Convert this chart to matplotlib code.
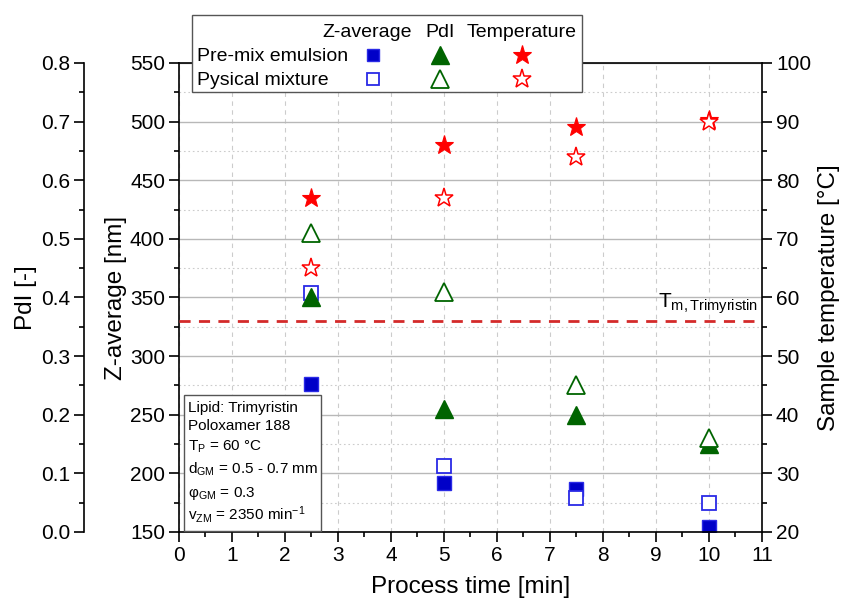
import matplotlib
matplotlib.use("Agg")
import matplotlib.pyplot as plt
from matplotlib.lines import Line2D
from matplotlib.patches import Rectangle
from matplotlib.ticker import MultipleLocator

plt.rcParams['font.family'] = ['Liberation Sans', 'DejaVu Sans']
plt.rcParams['mathtext.fontset'] = 'custom'
plt.rcParams['mathtext.rm'] = 'Liberation Sans'
plt.rcParams['mathtext.it'] = 'Liberation Sans:italic'
plt.rcParams['mathtext.bf'] = 'Liberation Sans:bold'
plt.rcParams['mathtext.default'] = 'regular'

# process time [min]
time = [2.5, 5, 7.5, 10]

# Z-average [nm]
z_premix = [276, 192, 187, 154]
z_phys = [354, 206, 179, 175]

# polydispersity index [-]
pdi_premix = [0.40, 0.21, 0.20, 0.15]
pdi_phys = [0.51, 0.41, 0.25, 0.16]

# sample temperature [°C]
temp_premix = [77, 86, 89, 90.3]
temp_phys = [65, 77, 84, 90]

tm_trimyristin = 56

info_lines = [
    "Lipid: Trimyristin",
    "Poloxamer 188",
    r"T$_P$ = 60 °C",
    r"d$_{GM}$ = 0.5 - 0.7 mm",
    r"φ$_{GM}$ = 0.3",
    r"v$_{ZM}$ = 2350 min$^{-1}$",
]

blue = '#0000c8'
blue_edge = '#2a2ae6'
green = '#006400'
red = '#ff0000'

tick_fs = 15
label_fs = 17.5

fig = plt.figure(figsize=(8.43, 6.05), dpi=100)
ax = fig.add_axes([0.2123, 0.1207, 0.6916, 0.7752])
ax_pdi = ax.twinx()
ax_t = ax.twinx()

# grid sits on the Z-average axes, everything lines up across the three scales
ax.set_axisbelow(True)
ax.grid(axis='y', which='major', color='#b8b8b8', lw=1.0, ls='-')
ax.grid(axis='y', which='minor', color='#cccccc', lw=0.8, ls=(0, (1.5, 2.5)))
ax.grid(axis='x', which='major', color='#cccccc', lw=0.8, ls=(0, (4, 4)))

ms_sq, ms_tri, ms_star = 9.5, 13, 14

# Z-average
ax.plot(time, z_premix, ls='none', marker='s', ms=ms_sq, mfc=blue, mec=blue_edge, mew=1.0)
ax.plot(time, z_phys, ls='none', marker='s', ms=ms_sq, mfc='white', mec=blue_edge, mew=1.3)

# PdI
ax_pdi.plot(time, pdi_premix, ls='none', marker='^', ms=ms_tri, mfc=green, mec=green, mew=1.0)
ax_pdi.plot(time, pdi_phys, ls='none', marker='^', ms=ms_tri, mfc='white', mec=green, mew=1.3)

# temperature
ax_t.axhline(tm_trimyristin, color='#d42a2a', lw=2.0, ls=(0, (4, 3)))
ax_t.plot(time, temp_premix, ls='none', marker='*', ms=ms_star, mfc=red, mec=red, mew=0.8)
ax_t.plot(time, temp_phys, ls='none', marker='*', ms=ms_star, mfc='white', mec=red, mew=1.1)
ax_t.text(10.92, 58.3, r"T$_{\mathrm{m,Trimyristin}}$", ha='right', va='baseline', fontsize=15)

ax.set_xlim(0, 11)
ax.set_ylim(150, 550)
ax_pdi.set_ylim(0, 0.8)
ax_t.set_ylim(20, 100)

ax.xaxis.set_major_locator(MultipleLocator(1))
ax.xaxis.set_minor_locator(MultipleLocator(0.5))
ax.yaxis.set_major_locator(MultipleLocator(50))
ax.yaxis.set_minor_locator(MultipleLocator(25))
ax_pdi.yaxis.set_major_locator(MultipleLocator(0.1))
ax_pdi.yaxis.set_minor_locator(MultipleLocator(0.05))
ax_pdi.yaxis.set_major_formatter(lambda v, p: f"{v:.1f}")
ax_t.yaxis.set_major_locator(MultipleLocator(10))
ax_t.yaxis.set_minor_locator(MultipleLocator(5))

# PdI scale on an offset spine left of the Z-average axis
ax_pdi.yaxis.set_ticks_position('left')
ax_pdi.yaxis.set_label_position('left')
ax_pdi.spines['left'].set_position(('axes', -0.163))
for s in ['right', 'top', 'bottom']:
    ax_pdi.spines[s].set_visible(False)
for s in ['left', 'top', 'bottom']:
    ax_t.spines[s].set_visible(False)
ax.spines['right'].set_visible(False)

for a in (ax, ax_pdi, ax_t):
    for s in a.spines.values():
        s.set_linewidth(1.2)
    a.tick_params(which='major', direction='out', length=7, width=1.2, labelsize=tick_fs, pad=3)
    a.tick_params(which='minor', direction='out', length=3.5, width=1.2)
ax.tick_params(top=False, which='both')

ax.set_xlabel("Process time [min]", fontsize=label_fs, labelpad=8)
ax.set_ylabel("Z-average [nm]", fontsize=label_fs, labelpad=2)
ax_pdi.set_ylabel("PdI [-]", fontsize=label_fs, labelpad=3)
ax_t.set_ylabel("Sample temperature [°C]", fontsize=label_fs, labelpad=5)

# process parameter box, lower left inside the plot
W, H = 843, 605


def fx(px):
    return px / W


def fy(py):
    return 1 - py / H


fig.add_artist(Rectangle((fx(184), fy(531)), fx(321) - fx(184), fy(395) - fy(531),
                         transform=fig.transFigure, fc='white', ec='#555555', lw=1.0, zorder=5))
line_y = [412, 430, 451, 474, 497, 520]
for txt, py in zip(info_lines, line_y):
    fig.text(fx(188), fy(py), txt, fontsize=11, ha='left', va='baseline', zorder=6)

# legend table above the plot
fig.add_artist(Rectangle((fx(192), fy(92)), fx(582) - fx(192), fy(15) - fy(92),
                         transform=fig.transFigure, fc='white', ec='#555555', lw=1.0, zorder=5))
legend_cols = [("Z-average", 367), ("PdI", 440), ("Temperature", 522)]
for txt, px in legend_cols:
    fig.text(fx(px), fy(37), txt, fontsize=14, ha='center', va='baseline', zorder=6)

rows = [
    ("Pre-mix emulsion", 61, [dict(marker='s', ms=9, mfc=blue, mec=blue_edge, mew=1.0),
                              dict(marker='^', ms=13, mfc=green, mec=green, mew=1.0),
                              dict(marker='*', ms=14, mfc=red, mec=red, mew=0.8)]),
    ("Pysical mixture", 85, [dict(marker='s', ms=9, mfc='white', mec=blue_edge, mew=1.3),
                             dict(marker='^', ms=13, mfc='white', mec=green, mew=1.3),
                             dict(marker='*', ms=14, mfc='white', mec=red, mew=1.1)]),
]
for label, py, styles in rows:
    fig.text(fx(197), fy(py), label, fontsize=14, ha='left', va='baseline', zorder=6)
    for (_, px), st in zip(legend_cols, styles):
        fig.add_artist(Line2D([fx(px + 6 if px == 367 else px)], [fy(py - 6)], ls='none',
                              transform=fig.transFigure, zorder=6, **st))

fig.savefig("out.png", dpi=100)
